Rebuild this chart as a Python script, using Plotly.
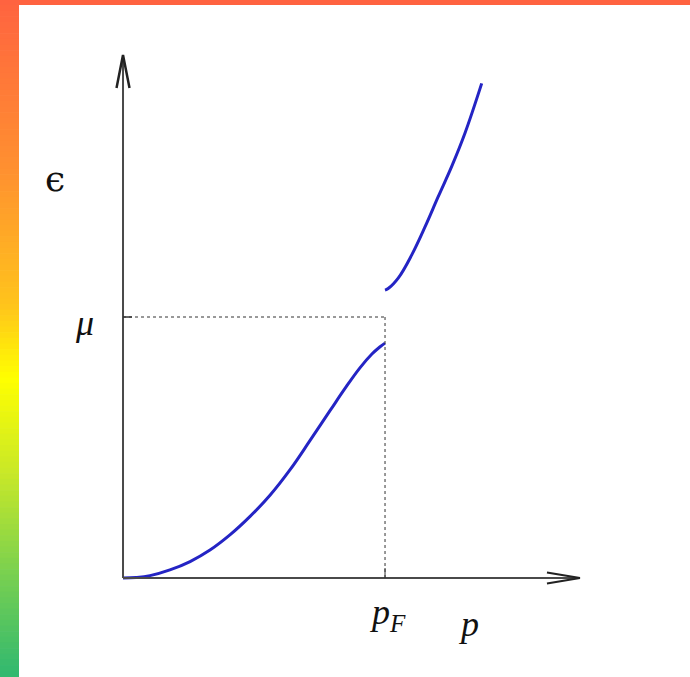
import plotly.graph_objects as go

# Single-particle energy vs momentum, with a jump at the Fermi momentum
p_below = [0.0, 0.05, 0.103, 0.179, 0.256, 0.332, 0.408, 0.485, 0.561, 0.637,
           0.714, 0.790, 0.852, 0.905, 0.950, 0.980, 1.0]
eps_below = [0.0, 0.002, 0.009, 0.031, 0.063, 0.107, 0.165, 0.236, 0.317, 0.414,
             0.527, 0.641, 0.733, 0.806, 0.858, 0.885, 0.90]

p_above = [1.0, 1.012, 1.051, 1.102, 1.153, 1.203, 1.255, 1.305, 1.369]
eps_above = [1.103, 1.109, 1.150, 1.238, 1.346, 1.461, 1.578, 1.704, 1.895]

p_fermi = 1.0
mu = 1.0

# axis extents (arrow tips)
p_max = 1.744
eps_max = 2.004

W, H = 690, 677
x_range = [-0.4695, 2.164]
y_range = [-0.3793, 2.2146]
px_x = (x_range[1] - x_range[0]) / W  # data units per pixel
px_y = (y_range[1] - y_range[0]) / H

curve_color = "#2424c4"
axis_color = "#4a4a4a"

fig = go.Figure()

fig.add_trace(go.Scatter(x=p_below, y=eps_below, mode="lines",
                         line=dict(color=curve_color, width=3, shape="spline", smoothing=1.1),
                         hoverinfo="skip"))
fig.add_trace(go.Scatter(x=p_above, y=eps_above, mode="lines",
                         line=dict(color=curve_color, width=3, shape="spline", smoothing=1.1),
                         hoverinfo="skip"))

shapes = []

# colour frame: gradient strip on the left, band along the top
stops = [(0.0, (255, 99, 64)), (0.25, (255, 144, 48)), (0.45, (255, 195, 28)),
         (0.56, (255, 255, 0)), (0.70, (200, 232, 40)), (0.85, (120, 208, 80)),
         (1.0, (48, 184, 112))]


def grad(t):
    for (t0, c0), (t1, c1) in zip(stops[:-1], stops[1:]):
        if t <= t1:
            f = (t - t0) / (t1 - t0)
            return "rgb(%d,%d,%d)" % tuple(round(a + (b - a) * f) for a, b in zip(c0, c1))
    return "rgb(%d,%d,%d)" % stops[-1][1]


n = 120
for i in range(n):
    y0 = 1 - i / n
    y1 = 1 - (i + 1) / n
    shapes.append(dict(type="rect", xref="paper", yref="paper", x0=0, x1=19 / W,
                       y0=y1, y1=y0 + 0.001, line=dict(width=0),
                       fillcolor=grad((i + 0.5) / n), layer="below"))
shapes.append(dict(type="rect", xref="paper", yref="paper", x0=0, x1=1,
                   y0=1 - 5 / H, y1=1, line=dict(width=0), fillcolor="#ff6340"))

# axes
shapes.append(dict(type="line", x0=0, y0=0, x1=p_max, y1=0,
                   line=dict(color=axis_color, width=2)))
shapes.append(dict(type="line", x0=0, y0=0, x1=0, y1=eps_max,
                   line=dict(color=axis_color, width=2)))
# arrow heads
shapes.append(dict(type="path",
                   path="M %f,%f L %f,%f L %f,%f" % (p_max - 33 * px_x, 5.5 * px_y, p_max, 0,
                                                      p_max - 33 * px_x, -5.5 * px_y),
                   line=dict(color="#222", width=2)))
shapes.append(dict(type="path",
                   path="M %f,%f L %f,%f L %f,%f" % (-6.5 * px_x, eps_max - 33 * px_y, 0, eps_max,
                                                      6.5 * px_x, eps_max - 33 * px_y),
                   line=dict(color="#222", width=2.5)))

# dotted guides at the chemical potential and Fermi momentum
shapes.append(dict(type="line", x0=0, y0=mu, x1=p_fermi, y1=mu,
                   line=dict(color="#333", width=1, dash="dot")))
shapes.append(dict(type="line", x0=p_fermi, y0=0, x1=p_fermi, y1=mu,
                   line=dict(color="#333", width=1, dash="dot")))
shapes.append(dict(type="line", x0=p_fermi, y0=0, x1=p_fermi, y1=10 * px_y,
                   line=dict(color="#333", width=1)))
shapes.append(dict(type="line", x0=0, y0=mu, x1=9 * px_x, y1=mu,
                   line=dict(color="#333", width=1.5)))

fig.update_layout(shapes=shapes)

label_font = dict(family="Liberation Serif", size=36, color="#111")
fig.add_annotation(x=-39 * px_x, y=mu - 6 * px_y, text="μ", showarrow=False,
                   font=dict(label_font, style="italic"), xanchor="center", yanchor="middle")
fig.add_annotation(x=-68 * px_x, y=1.53, text="ϵ", showarrow=False,
                   font=dict(family="DejaVu Serif", size=36, color="#111"),
                   xanchor="center", yanchor="middle")
fig.add_annotation(x=p_fermi + 2 * px_x, y=-36 * px_y, text="p<sub>F</sub>", showarrow=False,
                   font=dict(label_font, style="italic"), xanchor="center", yanchor="middle")
fig.add_annotation(x=(468 - 123) * px_x, y=-46 * px_y, text="p", showarrow=False,
                   font=dict(label_font, style="italic"), xanchor="center", yanchor="middle")

fig.update_xaxes(range=x_range, visible=False, fixedrange=True)
fig.update_yaxes(range=y_range, visible=False, fixedrange=True)
fig.update_layout(width=W, height=H, autosize=False, showlegend=False,
                  margin=dict(l=0, r=0, t=0, b=0, pad=0),
                  paper_bgcolor="white", plot_bgcolor="white")

fig.write_html("out.html")
